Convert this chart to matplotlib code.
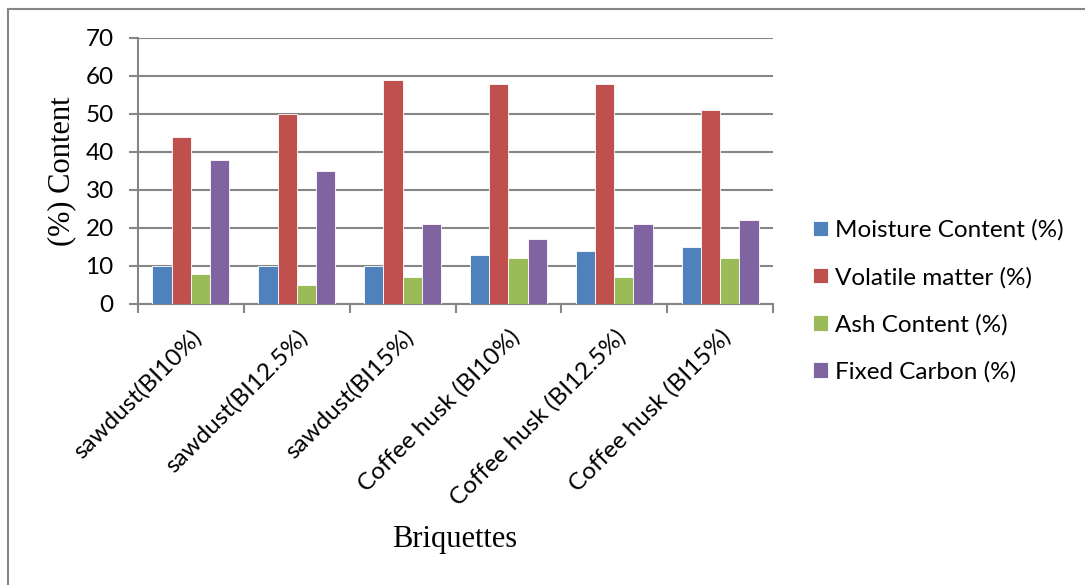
import numpy as np
import matplotlib
matplotlib.use("Agg")
import matplotlib.pyplot as plt
from matplotlib.lines import Line2D

# Proximate analysis of briquettes
briquettes = ["sawdust(BI10%)", "sawdust(BI12.5%)", "sawdust(BI15%)",
              "Coffee husk (BI10%)", "Coffee husk (BI12.5%)", "Coffee husk (BI15%)"]
moisture = [10, 10, 10, 13, 14, 15]
volatile = [44, 50, 59, 58, 58, 51]
ash = [8, 5, 7, 12, 7, 12]
fixed_carbon = [38, 35, 21, 17, 21, 22]

series_names = ["Moisture Content (%)", "Volatile matter (%)",
                "Ash Content (%)", "Fixed Carbon (%)"]
colors = ["#4F81BD", "#C0504D", "#9BBB59", "#8064A2"]

grid_color = "#868686"
label_font = ["Lato", "DejaVu Sans"]
title_font = ["Liberation Serif", "DejaVu Serif"]
fs = 17.5

fig = plt.figure(figsize=(10.85, 5.85), dpi=100)
ax = fig.add_axes([138 / 1085, 1 - 304 / 585, 635 / 1085, 266 / 585])

x = np.arange(len(briquettes))
width = 1 / 5.5
for i, (vals, name, c) in enumerate(zip([moisture, volatile, ash, fixed_carbon],
                                        series_names, colors)):
    ax.bar(x + (i - 1.5) * width, vals, width, color=c, label=name,
           edgecolor="white", linewidth=0.6, zorder=3)

ax.set_xlim(-0.5, len(briquettes) - 0.5)
ax.set_ylim(0, 70)
ax.set_yticks(range(0, 71, 10))
ax.yaxis.grid(True, color=grid_color, linewidth=1.5, zorder=0)

for side in ["top", "right"]:
    ax.spines[side].set_visible(False)
for side in ["left", "bottom"]:
    ax.spines[side].set_color(grid_color)
    ax.spines[side].set_linewidth(1.5)

ax.tick_params(axis="y", length=6.5, width=1.5, color=grid_color, pad=11)
ax.set_xticks(x)
ax.set_xticks(np.arange(-0.5, len(briquettes), 1), minor=True)
ax.tick_params(axis="x", which="major", length=0, pad=16)
ax.tick_params(axis="x", which="minor", length=6.5, width=1.5, color=grid_color)
ax.set_xticklabels(briquettes, rotation=45, ha="right", va="top",
                   rotation_mode="anchor", family=label_font, fontsize=fs)
for lbl in ax.get_yticklabels():
    lbl.set_family(label_font)
    lbl.set_fontsize(fs)

ax.set_ylabel("(%) Content", family=title_font, fontsize=22, labelpad=7)
fig.text(455 / 1085, 1 - 540 / 585, "Briquettes", family=title_font,
         fontsize=22, ha="center", va="center")

leg = fig.legend(loc="upper left", bbox_to_anchor=(806 / 1085, 1 - 212 / 585),
                 frameon=False, prop={"family": label_font, "size": fs},
                 handlelength=0.6, handleheight=0.6, handletextpad=0.3,
                 labelspacing=1.06, borderaxespad=0, borderpad=0.3)

# chart frame
fig.add_artist(Line2D([8 / 1085, 1], [1 - 9 / 585] * 2, color=grid_color,
                      linewidth=1.5, transform=fig.transFigure))
fig.add_artist(Line2D([8 / 1085] * 2, [0, 1 - 9 / 585], color=grid_color,
                      linewidth=1.5, transform=fig.transFigure))

fig.savefig("out.png", dpi=100)
